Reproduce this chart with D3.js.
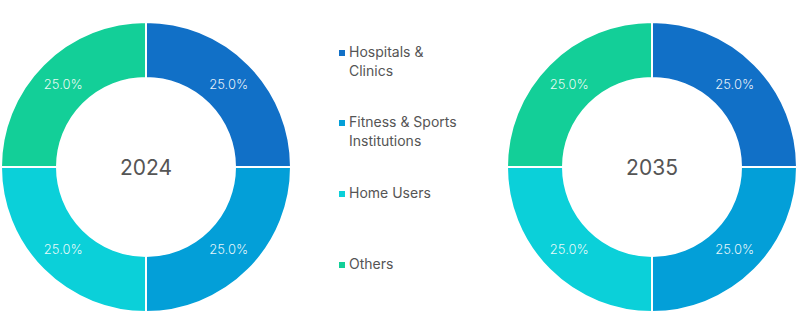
<!DOCTYPE html>
<html><head><meta charset="utf-8">
<script src="https://cdn.jsdelivr.net/npm/d3@7"></script>
<style>body{margin:0;background:#fff;}svg{display:block;font-family:Inter,Roboto,"Noto Sans",sans-serif;}</style>
</head><body><svg id="c" width="800" height="332"></svg>
<script>
const categories = ["Hospitals & Clinics", "Fitness & Sports Institutions", "Home Users", "Others"];
const legendLines = [["Hospitals &", "Clinics"], ["Fitness & Sports", "Institutions"], ["Home Users"], ["Others"]];
const years = ["2024", "2035"];
const values2024 = [25.0, 25.0, 25.0, 25.0];
const values2035 = [25.0, 25.0, 25.0, 25.0];
const colors = ["#1170c7", "#039fd8", "#0bd0d9", "#13cf98"];

const svg = d3.select("#c");
const color = d3.scaleOrdinal().domain(categories).range(colors);
const outerR = 145, innerR = 89;
const centers = [[146, 167], [652, 167]];
const allValues = [values2024, values2035];

const pie = d3.pie().sort(null).value(d => d.v);
const arc = d3.arc().innerRadius(innerR).outerRadius(outerR);
const labelArc = d3.arc().innerRadius((innerR + outerR) / 2).outerRadius((innerR + outerR) / 2);

allValues.forEach((vals, i) => {
  const data = categories.map((c, k) => ({c, v: vals[k]}));
  const g = svg.append("g").attr("transform", `translate(${centers[i][0]},${centers[i][1]})`);
  const arcs = pie(data);
  g.selectAll("path").data(arcs).join("path")
    .attr("d", arc)
    .attr("fill", d => color(d.data.c))
    .attr("stroke", "#fff").attr("stroke-width", 2);
  g.selectAll("text.lbl").data(arcs).join("text").attr("class", "lbl")
    .attr("transform", d => `translate(${labelArc.centroid(d)})`)
    .attr("text-anchor", "middle").attr("dy", "0.35em")
    .attr("fill", "#ffffff").attr("fill-opacity", 0.9)
    .attr("font-size", 13).attr("font-weight", 300)
    .text(d => d.data.v.toFixed(1) + "%");
  g.append("text").attr("text-anchor", "middle").attr("dy", "0.36em")
    .attr("fill", "#555").attr("font-size", 21)
    .text(years[i]);
});

const legendY = [52, 122, 193, 264];
const lg = svg.append("g");
categories.forEach((c, k) => {
  const item = lg.append("g").attr("transform", `translate(339,${legendY[k]})`);
  item.append("rect").attr("x", 0).attr("y", -2).attr("width", 6).attr("height", 6).attr("fill", color(c));
  const t = item.append("text").attr("fill", "#555").attr("font-size", 14);
  legendLines[k].forEach((ln, j) => {
    t.append("tspan").attr("x", 10).attr("y", j * 19).attr("dy", "0.35em").text(ln);
  });
});
</script></body></html>
